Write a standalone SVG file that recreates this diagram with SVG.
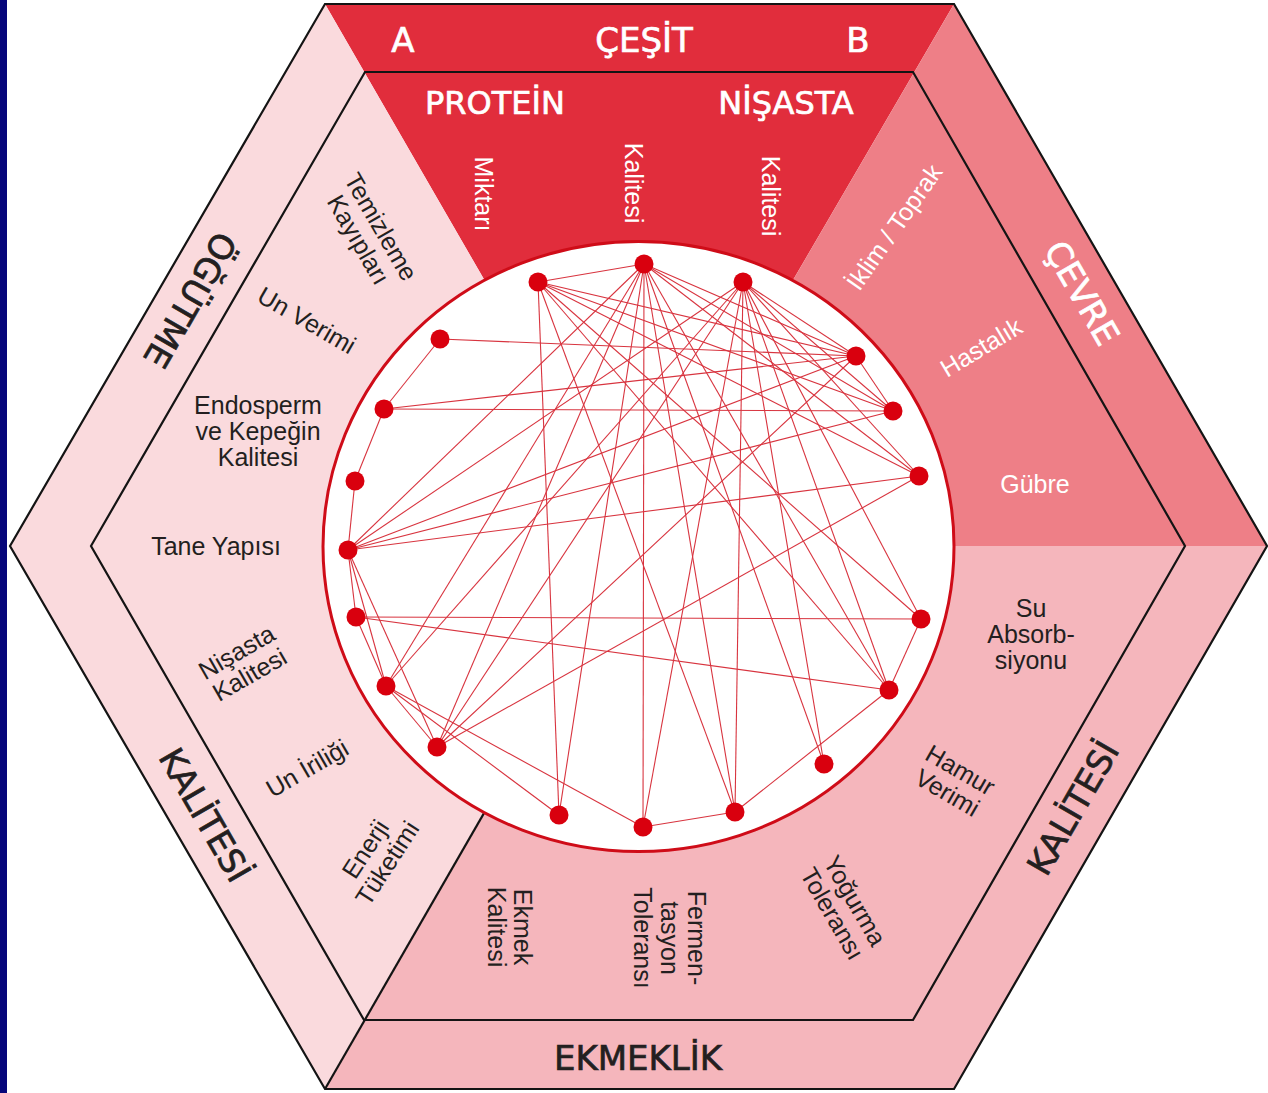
<svg xmlns="http://www.w3.org/2000/svg" width="1268" height="1093" viewBox="0 0 1268 1093">
<style>
.lbl{font-family:"Liberation Sans","DejaVu Sans",sans-serif;font-size:25px;fill:#231f20;text-anchor:middle}
.w{fill:#ffffff}
.ttl{font-family:"DejaVu Sans","Liberation Sans",sans-serif;font-size:34px;stroke-width:0.7;paint-order:stroke}
.hdr{font-family:"DejaVu Sans","Liberation Sans",sans-serif;font-size:32px;stroke:#ffffff;stroke-width:0.7}
.tw{stroke:#ffffff}
.tk{stroke:#231f20}
.edge{stroke:#d8343f;stroke-width:1.1;fill:none}
.dot{fill:#d9000e}
.blk{stroke:#141414;stroke-width:2.2;fill:none;stroke-linejoin:miter}
</style>
<rect x="0" y="0" width="1268" height="1093" fill="#ffffff"/>
<rect x="0" y="0" width="7" height="1093" fill="#06067a"/>
<g id="sectors">
<polygon points="325,4 954,4 638,546" fill="#e12d3c"/>
<polygon points="954,4 1267,546 638,546" fill="#ee7f87"/>
<polygon points="1267,546 954,1089 325,1089 638,546" fill="#f5b6bc"/>
<polygon points="325,4 638,546 325,1089 10,546" fill="#fadadd"/>
<line x1="325" y1="1089" x2="638" y2="546" class="blk"/>
<polygon points="10,546 325,4 954,4 1267,546 954,1089 325,1089" class="blk"/>
<polygon points="91,546 365,72 913,72 1185,546 913,1020 364,1020" class="blk"/>
</g>
<ellipse id="circle" cx="638.5" cy="546.5" rx="315.5" ry="305" fill="#ffffff" stroke="#cf0c18" stroke-width="3"/>
<g id="connectors" class="edge">
<line x1="538" y1="282" x2="644" y2="264"/>
<line x1="538" y1="282" x2="856" y2="356"/>
<line x1="538" y1="282" x2="893" y2="411"/>
<line x1="538" y1="282" x2="919" y2="476"/>
<line x1="538" y1="282" x2="921" y2="619"/>
<line x1="538" y1="282" x2="889" y2="690"/>
<line x1="538" y1="282" x2="735" y2="812"/>
<line x1="538" y1="282" x2="559" y2="815"/>
<line x1="644" y1="264" x2="856" y2="356"/>
<line x1="644" y1="264" x2="893" y2="411"/>
<line x1="644" y1="264" x2="919" y2="476"/>
<line x1="644" y1="264" x2="889" y2="690"/>
<line x1="644" y1="264" x2="824" y2="764"/>
<line x1="644" y1="264" x2="735" y2="812"/>
<line x1="644" y1="264" x2="643" y2="827"/>
<line x1="644" y1="264" x2="559" y2="815"/>
<line x1="644" y1="264" x2="437" y2="747"/>
<line x1="644" y1="264" x2="386" y2="686"/>
<line x1="644" y1="264" x2="348" y2="550"/>
<line x1="743" y1="282" x2="856" y2="356"/>
<line x1="743" y1="282" x2="893" y2="411"/>
<line x1="743" y1="282" x2="919" y2="476"/>
<line x1="743" y1="282" x2="921" y2="619"/>
<line x1="743" y1="282" x2="889" y2="690"/>
<line x1="743" y1="282" x2="824" y2="764"/>
<line x1="743" y1="282" x2="735" y2="812"/>
<line x1="743" y1="282" x2="643" y2="827"/>
<line x1="743" y1="282" x2="437" y2="747"/>
<line x1="743" y1="282" x2="386" y2="686"/>
<line x1="743" y1="282" x2="348" y2="550"/>
<line x1="856" y1="356" x2="893" y2="411"/>
<line x1="856" y1="356" x2="437" y2="747"/>
<line x1="856" y1="356" x2="348" y2="550"/>
<line x1="856" y1="356" x2="384" y2="409"/>
<line x1="856" y1="356" x2="440" y2="339"/>
<line x1="893" y1="411" x2="348" y2="550"/>
<line x1="893" y1="411" x2="384" y2="409"/>
<line x1="919" y1="476" x2="437" y2="747"/>
<line x1="919" y1="476" x2="348" y2="550"/>
<line x1="921" y1="619" x2="889" y2="690"/>
<line x1="921" y1="619" x2="356" y2="617"/>
<line x1="889" y1="690" x2="735" y2="812"/>
<line x1="889" y1="690" x2="356" y2="617"/>
<line x1="735" y1="812" x2="643" y2="827"/>
<line x1="643" y1="827" x2="386" y2="686"/>
<line x1="559" y1="815" x2="386" y2="686"/>
<line x1="437" y1="747" x2="386" y2="686"/>
<line x1="437" y1="747" x2="348" y2="550"/>
<line x1="386" y1="686" x2="356" y2="617"/>
<line x1="386" y1="686" x2="348" y2="550"/>
<line x1="356" y1="617" x2="348" y2="550"/>
<line x1="348" y1="550" x2="355" y2="481"/>
<line x1="355" y1="481" x2="384" y2="409"/>
<line x1="384" y1="409" x2="440" y2="339"/>
</g>
<g id="n1"><circle class="dot" cx="538" cy="282" r="9.5"/></g>
<g id="n2"><circle class="dot" cx="644" cy="264" r="9.5"/></g>
<g id="n3"><circle class="dot" cx="743" cy="282" r="9.5"/></g>
<g id="n4"><circle class="dot" cx="856" cy="356" r="9.5"/></g>
<g id="n5"><circle class="dot" cx="893" cy="411" r="9.5"/></g>
<g id="n6"><circle class="dot" cx="919" cy="476" r="9.5"/></g>
<g id="n7"><circle class="dot" cx="921" cy="619" r="9.5"/></g>
<g id="n8"><circle class="dot" cx="889" cy="690" r="9.5"/></g>
<g id="n9"><circle class="dot" cx="824" cy="764" r="9.5"/></g>
<g id="n10"><circle class="dot" cx="735" cy="812" r="9.5"/></g>
<g id="n11"><circle class="dot" cx="643" cy="827" r="9.5"/></g>
<g id="n12"><circle class="dot" cx="559" cy="815" r="9.5"/></g>
<g id="n13"><circle class="dot" cx="437" cy="747" r="9.5"/></g>
<g id="n14"><circle class="dot" cx="386" cy="686" r="9.5"/></g>
<g id="n15"><circle class="dot" cx="356" cy="617" r="9.5"/></g>
<g id="n16"><circle class="dot" cx="348" cy="550" r="9.5"/></g>
<g id="n17"><circle class="dot" cx="355" cy="481" r="9.5"/></g>
<g id="n18"><circle class="dot" cx="384" cy="409" r="9.5"/></g>
<g id="n19"><circle class="dot" cx="440" cy="339" r="9.5"/></g>
<g id="cesit-labels">
<text class="lbl w ttl tw" x="403" y="52">A</text>
<text class="lbl w ttl tw" x="644" y="52">ÇEŞİT</text>
<text class="lbl w ttl tw" x="858" y="52">B</text>
<text class="lbl w hdr" x="495" y="114">PROTEİN</text>
<text class="lbl w hdr" x="786" y="114">NİŞASTA</text>
<g transform="translate(484,194) rotate(90)"><text class="lbl w" y="9">Miktarı</text></g>
<g transform="translate(634,183) rotate(90)"><text class="lbl w" y="9">Kalitesi</text></g>
<g transform="translate(771,196) rotate(90)"><text class="lbl w" y="9">Kalitesi</text></g>
</g>
<g id="cevre-labels">
<g transform="translate(894,227) rotate(-55)"><text class="lbl w" y="9">İklim / Toprak</text></g>
<g transform="translate(981,347) rotate(-31)"><text class="lbl w" y="9">Hastalık</text></g>
<text class="lbl w" x="1035" y="493">Gübre</text>
<g transform="translate(1082,293) rotate(60)"><text class="lbl w ttl tw" y="12">ÇEVRE</text></g>
</g>
<g id="ekmek-labels">
<text class="lbl" x="1031" y="617">Su</text>
<text class="lbl" x="1031" y="643">Absorb-</text>
<text class="lbl" x="1031" y="669">siyonu</text>
<g transform="translate(954,781) rotate(30)"><text class="lbl" y="-4">Hamur</text><text class="lbl" y="22">Verimi</text></g>
<g transform="translate(1073,808) rotate(-60)"><text class="lbl ttl tk" y="12">KALİTESİ</text></g>
<g transform="translate(844,907) rotate(60)"><text class="lbl" y="-4">Yoğurma</text><text class="lbl" y="22">Toleransı</text></g>
<g transform="translate(670,938) rotate(90)"><text class="lbl" y="-18">Fermen-</text><text class="lbl" y="9">tasyon</text><text class="lbl" y="36">Toleransı</text></g>
<g transform="translate(510,927) rotate(90)"><text class="lbl" y="-4">Ekmek</text><text class="lbl" y="22">Kalitesi</text></g>
<text class="lbl ttl tk" x="638" y="1070">EKMEKLİK</text>
</g>
<g id="ogutme-labels">
<g transform="translate(370,233) rotate(60)"><text class="lbl" y="-4">Temizleme</text><text class="lbl" y="22">Kayıpları</text></g>
<g transform="translate(307,320) rotate(30)"><text class="lbl" y="9">Un Verimi</text></g>
<text class="lbl" x="258" y="414">Endosperm</text>
<text class="lbl" x="258" y="440">ve Kepeğin</text>
<text class="lbl" x="258" y="466">Kalitesi</text>
<text class="lbl" x="216" y="555">Tane Yapısı</text>
<g transform="translate(243,663) rotate(-30)"><text class="lbl" y="-4">Nişasta</text><text class="lbl" y="22">Kalitesi</text></g>
<g transform="translate(307,768) rotate(-30)"><text class="lbl" y="9">Un İriliği</text></g>
<g transform="translate(376,856) rotate(-57)"><text class="lbl" y="-4">Enerji</text><text class="lbl" y="22">Tüketimi</text></g>
<g transform="translate(190,300) rotate(120)"><text class="lbl ttl tk" y="12">ÖĞÜTME</text></g>
<g transform="translate(205,815) rotate(60)"><text class="lbl ttl tk" y="12">KALİTESİ</text></g>
</g>
</svg>
